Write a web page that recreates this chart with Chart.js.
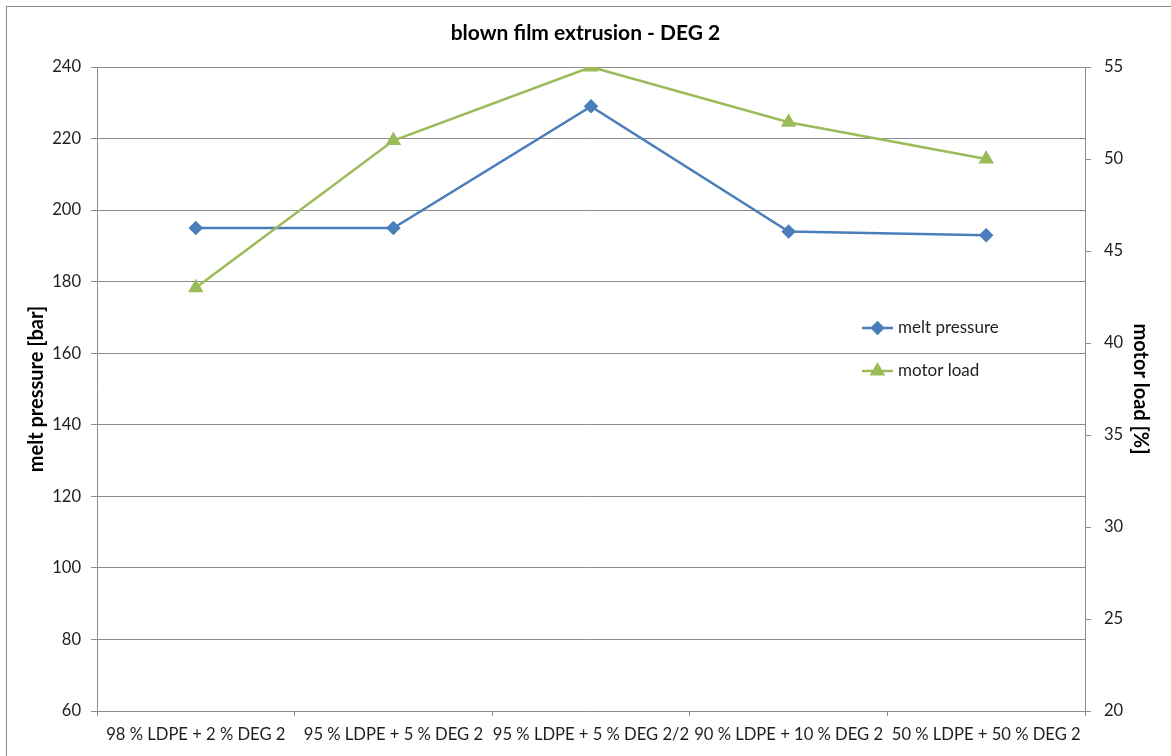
<!DOCTYPE html>
<html>
<head>
<meta charset="utf-8">
<title>blown film extrusion - DEG 2</title>
<script src="https://cdn.jsdelivr.net/npm/chart.js@4/dist/chart.umd.min.js"></script>
<style>
  html, body { margin: 0; padding: 0; background: #ffffff; overflow: hidden; }
  #frame {
    position: absolute; left: 6px; top: 6px; width: 2000px; height: 2000px;
    border-top: 1px solid #8a8a8a; border-left: 1px solid #8a8a8a;
  }
  #wrap { position: absolute; left: 0; top: 0; width: 1171px; height: 756px; }
</style>
</head>
<body>
<div id="frame"></div>
<div id="wrap"><canvas id="chart"></canvas></div>
<script>
// Blends of LDPE with DEG 2
const categories = [
  '98 % LDPE + 2 % DEG 2',
  '95 % LDPE + 5 % DEG 2',
  '95 % LDPE + 5 % DEG 2/2',
  '90 % LDPE + 10 % DEG 2',
  '50 % LDPE + 50 % DEG 2'
];
// melt pressure in bar (left axis)
const meltPressure = [195, 195, 229, 194, 193];
// motor load in percent (right axis)
const motorLoad = [43, 51, 55, 52, 50];

const seriesNames = ['melt pressure', 'motor load'];
const seriesColors = ['#4a7ebb', '#9bbb59'];

const FONT = 'Lato, "Open Sans", sans-serif';
const TEXT = '#1f1f1f';
const GRID = '#8c8c8c';

// Legend drawn inside the plot area, stacked vertically
const insideLegend = {
  id: 'insideLegend',
  afterDraw(chart, args, opts) {
    const ctx = chart.ctx;
    ctx.save();
    chart.data.datasets.forEach((ds, i) => {
      const y = opts.y + i * opts.rowGap;
      ctx.strokeStyle = ds.borderColor;
      ctx.lineWidth = ds.borderWidth;
      ctx.beginPath();
      ctx.moveTo(opts.x, y);
      ctx.lineTo(opts.x + opts.lineLength, y);
      ctx.stroke();
      ctx.fillStyle = ds.pointBackgroundColor;
      ctx.strokeStyle = ds.pointBorderColor;
      Chart.helpers.drawPoint(ctx, {
        pointStyle: ds.pointStyle, radius: ds.pointRadius, rotation: 0, borderWidth: 1
      }, opts.x + opts.lineLength / 2, y);
      ctx.fillStyle = TEXT;
      ctx.font = opts.font;
      ctx.textAlign = 'left';
      ctx.textBaseline = 'middle';
      ctx.fillText(ds.label, opts.x + opts.lineLength + 5, y);
    });
    ctx.restore();
  }
};

new Chart(document.getElementById('chart'), {
  type: 'line',
  data: {
    labels: categories,
    datasets: [
      {
        label: seriesNames[0],
        data: meltPressure,
        yAxisID: 'y',
        borderColor: seriesColors[0],
        backgroundColor: seriesColors[0],
        pointBackgroundColor: seriesColors[0],
        pointBorderColor: seriesColors[0],
        borderWidth: 2.5,
        pointStyle: 'rectRot',
        pointRadius: 5.5,
        tension: 0,
        order: 1
      },
      {
        label: seriesNames[1],
        data: motorLoad,
        yAxisID: 'y1',
        borderColor: seriesColors[1],
        backgroundColor: seriesColors[1],
        pointBackgroundColor: seriesColors[1],
        pointBorderColor: seriesColors[1],
        borderWidth: 2.5,
        pointStyle: 'triangle',
        pointRadius: 6.5,
        tension: 0,
        order: 0
      }
    ]
  },
  options: {
    responsive: true,
    maintainAspectRatio: false,
    animation: false,
    layout: { padding: 0 },
    plugins: {
      legend: { display: false },
      tooltip: { enabled: false },
      title: {
        display: true,
        text: 'blown film extrusion - DEG 2',
        color: '#000',
        font: { family: FONT, size: 21, weight: 'bold' },
        padding: { top: 20.4, bottom: 21.4 }
      },
      insideLegend: {
        x: 862, y: 328, rowGap: 43, lineLength: 31,
        font: '17px ' + FONT
      }
    },
    scales: {
      x: {
        type: 'category',
        offset: true,
        grid: { offset: true, drawOnChartArea: false, drawTicks: true, tickLength: 5, color: GRID },
        border: { color: GRID, width: 1 },
        ticks: {
          autoSkip: false, maxRotation: 0, minRotation: 0,
          color: TEXT, font: { family: FONT, size: 16.6 }, padding: 9
        },
        afterFit(scale) { scale.height = 45; }
      },
      y: {
        position: 'left',
        min: 60, max: 240,
        ticks: { stepSize: 20, color: TEXT, font: { family: FONT, size: 16.6 }, padding: 10 },
        grid: { color: GRID, tickLength: 6, drawTicks: true },
        border: { color: GRID, width: 1 },
        title: {
          display: true, text: 'melt pressure [bar]', color: '#000',
          font: { family: FONT, size: 20, weight: 'bold' },
          padding: { top: 25, bottom: 0 }
        },
        afterFit(scale) { scale.width = 97; }
      },
      y1: {
        position: 'right',
        min: 20, max: 55,
        ticks: { stepSize: 5, color: TEXT, font: { family: FONT, size: 16.6 }, padding: 13 },
        grid: { drawOnChartArea: false, color: GRID, tickLength: 6, drawTicks: true },
        border: { color: GRID, width: 1 },
        title: {
          display: true, text: 'motor load [%]', color: '#000',
          font: { family: FONT, size: 20, weight: 'bold' },
          padding: { top: 19, bottom: 0 }
        },
        afterFit(scale) { scale.width = 86; }
      }
    }
  },
  plugins: [insideLegend]
});
</script>
</body>
</html>
